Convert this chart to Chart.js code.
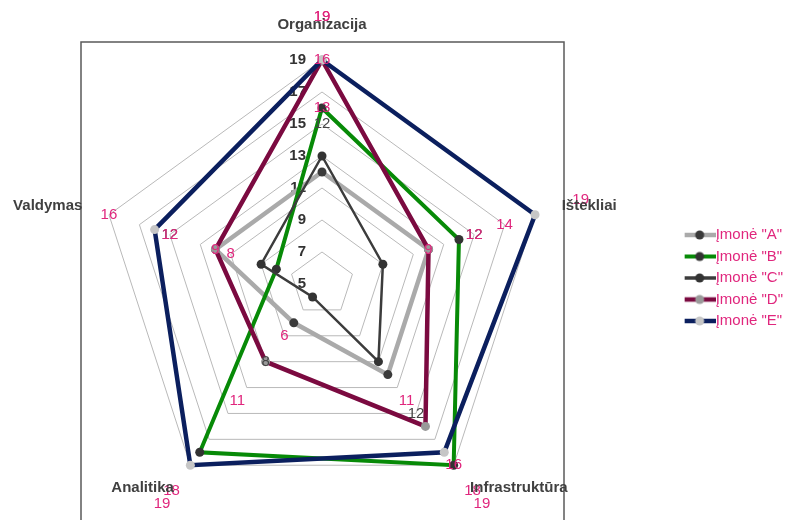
<!DOCTYPE html>
<html>
<head>
<meta charset="utf-8">
<script src="https://cdn.jsdelivr.net/npm/chart.js@4"></script>
<style>
html,body{margin:0;padding:0;background:#ffffff;overflow:hidden;}
#wrap{position:relative;width:789px;height:520px;overflow:hidden;}
#inner{position:absolute;left:-40px;top:0;width:829px;height:520px;}
</style>
</head>
<body>
<div id="wrap"><div id="inner"><canvas id="chart"></canvas></div></div>
<script>
// ---- data ----
const categories = ['Organizacija', 'Ištekliai', 'Infrastruktūra', 'Analitika', 'Valdymas'];
const seriesNames = ['Įmonė "A"', 'Įmonė "B"', 'Įmonė "C"', 'Įmonė "D"', 'Įmonė "E"'];
const valuesA = [12, 12, 12, 8, 12];
const valuesB = [16, 14, 19, 18, 8];
const valuesC = [13, 9, 11, 6, 9];
const valuesD = [19, 12, 16, 11, 12];
const valuesE = [19, 19, 18, 19, 16];
const tickValues = [5, 7, 9, 11, 13, 15, 17, 19];
const seriesValues = [valuesA, valuesB, valuesC, valuesD, valuesE];

// ---- styles ----
const FONT = '"Liberation Sans", Arial, sans-serif';
const PINK = '#e0267d';
const lineColors = ['#aaaaaa', '#078a07', '#3c3c3c', '#7b0a40', '#0b1f5e'];
const markerColors = ['#3a3a3a', '#333333', '#333333', '#999999', '#c6c6c6'];
const lineWidths = [4.5, 4, 2.5, 4.5, 4.5];
const valueLabelColors = ['#444444', PINK, PINK, PINK, PINK];
const LABEL_SHIFT = 3; // value labels sit 3 scale units outside their point

function legendSwatch(i) {
  const c = document.createElement('canvas');
  c.width = 32; c.height = 12;
  const g = c.getContext('2d');
  g.strokeStyle = lineColors[i];
  g.lineWidth = Math.max(lineWidths[i], 3.5);
  g.beginPath(); g.moveTo(0, 6); g.lineTo(32, 6); g.stroke();
  g.fillStyle = markerColors[i];
  g.beginPath(); g.arc(16, 6, 4.5, 0, Math.PI * 2); g.fill();
  return c;
}

const datasets = seriesValues.map((vals, i) => ({
  label: seriesNames[i],
  data: vals,
  borderColor: lineColors[i],
  borderWidth: lineWidths[i],
  backgroundColor: 'rgba(0,0,0,0)',
  fill: false,
  pointRadius: 4.5,
  pointHoverRadius: 4.5,
  pointBackgroundColor: markerColors[i],
  pointBorderColor: markerColors[i],
  pointBorderWidth: 0,
  order: seriesValues.length - i
}));

const overlay = {
  id: 'overlay',
  beforeDraw(chart) {
    const s = chart.scales.r;
    const ctx = chart.ctx;
    ctx.save();
    ctx.strokeStyle = '#5a5a5a';
    ctx.lineWidth = 1.5;
    ctx.strokeRect(s.xCenter - 241, s.yCenter - 242, 483, 600);
    ctx.restore();
  },
  beforeDatasetsDraw(chart) {
    const s = chart.scales.r;
    const ctx = chart.ctx;
    ctx.save();
    ctx.font = 'bold 15px ' + FONT;
    ctx.fillStyle = '#333333';
    ctx.textAlign = 'right';
    ctx.textBaseline = 'middle';
    tickValues.forEach(v => {
      const p = s.getPointPositionForValue(0, v);
      ctx.fillText(String(v), p.x - 16, p.y);
    });
    ctx.restore();
  },
  afterDatasetsDraw(chart) {
    const s = chart.scales.r;
    const ctx = chart.ctx;
    ctx.save();
    // value labels
    ctx.font = '15px ' + FONT;
    ctx.textAlign = 'center';
    ctx.textBaseline = 'middle';
    seriesValues.forEach((vals, si) => {
      ctx.fillStyle = valueLabelColors[si];
      vals.forEach((v, i) => {
        if (v === null || v === undefined) return;
        const p = s.getPointPositionForValue(i, v + LABEL_SHIFT);
        ctx.fillText(String(v), p.x, Math.max(p.y, 17));
      });
    });
    // category labels
    ctx.font = 'bold 15px ' + FONT;
    ctx.fillStyle = '#404040';
    categories.forEach((name, i) => {
      const p = s.getPointPosition(i, s.drawingArea + 28);
      const dx = p.x - s.xCenter;
      if (Math.abs(dx) < 1) {
        ctx.textAlign = 'center';
        ctx.textBaseline = 'bottom';
      } else {
        ctx.textAlign = dx > 0 ? 'left' : 'right';
        ctx.textBaseline = 'middle';
      }
      ctx.fillText(name, p.x, p.y);
    });
    ctx.restore();
  }
};

new Chart(document.getElementById('chart'), {
  type: 'radar',
  data: { labels: categories, datasets: datasets },
  options: {
    responsive: true,
    maintainAspectRatio: false,
    animation: false,
    events: [],
    layout: { padding: { left: 0, right: -4, top: 48, bottom: 12 } },
    elements: { line: { tension: 0 } },
    scales: {
      r: {
        min: tickValues[0],
        max: tickValues[tickValues.length - 1],
        ticks: { stepSize: tickValues[1] - tickValues[0], display: false },
        grid: { color: '#b9b9b9', lineWidth: 1 },
        angleLines: { display: false },
        pointLabels: { display: false }
      }
    },
    plugins: {
      title: { display: true, text: '', padding: 0, font: { size: 10, lineHeight: 1.2 } },
      tooltip: { enabled: false },
      legend: {
        position: 'right',
        align: 'center',
        labels: {
          usePointStyle: true,
          pointStyleWidth: 17,
          padding: 6.5,
          color: PINK,
          font: { family: FONT, size: 15 },
          generateLabels: (chart) => seriesNames.map((name, i) => ({
            text: name,
            fillStyle: lineColors[i],
            strokeStyle: lineColors[i],
            lineWidth: 0,
            pointStyle: legendSwatch(i),
            hidden: false,
            datasetIndex: i,
            fontColor: PINK
          }))
        }
      }
    }
  },
  plugins: [overlay]
});
</script>
</body>
</html>
